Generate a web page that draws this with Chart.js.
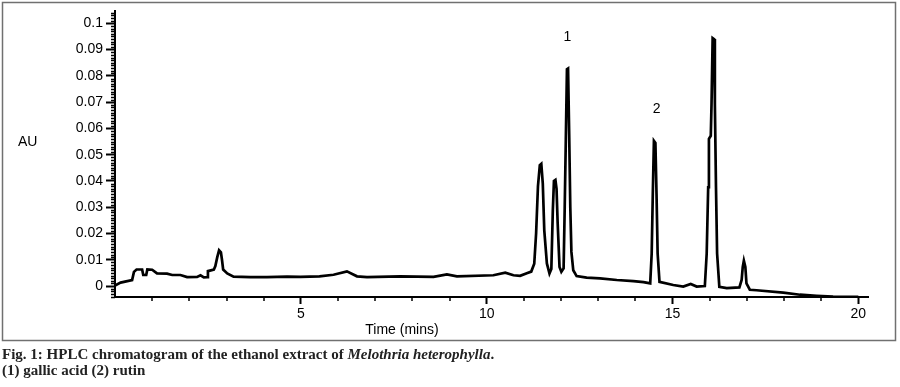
<!DOCTYPE html>
<html>
<head>
<meta charset="utf-8">
<script src="https://cdn.jsdelivr.net/npm/chart.js@4.4.1/dist/chart.umd.min.js"></script>
<style>
  html, body { margin: 0; padding: 0; background: #fff; }
  #wrap { position: relative; width: 900px; height: 387px; }
  #caption {
    position: absolute; left: 2px; top: 346px;
    font: bold 15px "Liberation Serif", serif; line-height: 16px; color: #222;
  }
</style>
</head>
<body>
<div id="wrap">
  <canvas id="HplcCanvas" width="900" height="387"></canvas>
  <div id="caption">Fig. 1: HPLC chromatogram of the ethanol extract of <i>Melothria heterophylla</i>.<br>(1) gallic acid (2) rutin</div>
</div>
<script>
// retention time (min) and absorbance (AU)
var retentionTimes = [
    0.00, 0.15, 0.46, 0.51, 0.58, 0.73, 0.76, 0.84, 0.87, 1.00,
    1.13, 1.40, 1.54, 1.76, 1.94, 2.21, 2.30, 2.39, 2.48, 2.50,
    2.66, 2.70, 2.75, 2.80, 2.85, 2.88, 2.91, 3.02, 3.19, 3.64,
    4.09, 4.63, 4.99, 5.50, 5.88, 6.24, 6.51, 6.78, 7.67, 8.57,
    8.93, 9.20, 10.18, 10.50, 10.72, 10.90, 11.08, 11.20, 11.28, 11.33,
    11.38, 11.43, 11.47, 11.51, 11.55, 11.62, 11.69, 11.74, 11.78, 11.81,
    11.85, 11.88, 11.91, 11.96, 12.01, 12.07, 12.10, 12.13, 12.16, 12.19,
    12.22, 12.25, 12.28, 12.33, 12.42, 12.69, 13.05, 13.50, 13.95, 14.22,
    14.40, 14.44, 14.47, 14.50, 14.54, 14.57, 14.60, 14.65, 15.02, 15.29,
    15.49, 15.65, 15.87, 15.92, 15.96, 15.98, 16.03, 16.05, 16.08, 16.12,
    16.14, 16.17, 16.20, 16.26, 16.46, 16.80, 16.86, 16.89, 16.92, 16.96,
    16.99, 17.08, 17.26, 17.98, 18.43, 18.88, 19.32, 20.00
];
var absorbance = [
    0.0002, 0.0013, 0.0023, 0.0054, 0.0063, 0.0063, 0.0042, 0.0042, 0.0063, 0.0062,
    0.0048, 0.0047, 0.0042, 0.0042, 0.0034, 0.0035, 0.0041, 0.0033, 0.0034, 0.0057,
    0.0063, 0.0076, 0.0109, 0.0136, 0.0128, 0.0098, 0.0063, 0.0048, 0.0036, 0.0034,
    0.0034, 0.0036, 0.0035, 0.0037, 0.0043, 0.0056, 0.0037, 0.0034, 0.0037, 0.0035,
    0.0044, 0.0037, 0.0041, 0.0051, 0.0041, 0.0039, 0.0049, 0.0055, 0.0085, 0.0200,
    0.0380, 0.0460, 0.0465, 0.0390, 0.0212, 0.0086, 0.0048, 0.0065, 0.0288, 0.0400,
    0.0404, 0.0370, 0.0240, 0.0073, 0.0054, 0.0067, 0.0300, 0.0560, 0.0825, 0.0828,
    0.0580, 0.0300, 0.0130, 0.0060, 0.0038, 0.0032, 0.0029, 0.0023, 0.0019, 0.0015,
    0.0010, 0.0124, 0.0351, 0.0553, 0.0545, 0.0351, 0.0124, 0.0016, 0.0004, -0.0002,
    0.0008, -0.0002, 0.0000, 0.0124, 0.0376, 0.0560, 0.0572, 0.0692, 0.0944, 0.0940,
    0.0692, 0.0376, 0.0124, -0.0003, -0.0008, -0.0005, 0.0023, 0.0073, 0.0097, 0.0073,
    0.0010, -0.0014, -0.0016, -0.0025, -0.0033, -0.0037, -0.0040, -0.0041
];

var xTicks = [5, 10, 15, 20];
var yTicks = [0, 0.01, 0.02, 0.03, 0.04, 0.05, 0.06, 0.07, 0.08, 0.09, 0.1];

// peak numbers written above the peaks
var peakNames = ["1", "2"];
var peakTimes = [12.17, 14.57];
var peakHeights = [0.0947, 0.0673];

var points = retentionTimes.map(function (t, i) {
    return { x: t, y: absorbance[i] };
});

var tickFont = { family: "'Liberation Sans', Arial, sans-serif", size: 14 };

// frame, minor ticks, axis titles and peak numbers
var decorations = {
    id: 'decorations',
    beforeDraw: function (chart) {
        var ctx = chart.ctx;
        ctx.save();
        ctx.strokeStyle = "#707070";
        ctx.lineWidth = 1.5;
        ctx.strokeRect(2.5, 2.5, 893, 338);
        ctx.restore();
    },
    afterDraw: function (chart) {
        var ctx = chart.ctx;
        var xs = chart.scales.x, ys = chart.scales.y;
        ctx.save();
        ctx.strokeStyle = "#000";
        ctx.lineWidth = 1.5;
        ctx.beginPath();
        for (var m = 1; m < 20; m++) {
            if (m % 5 === 0) continue;
            var px = Math.round(xs.getPixelForValue(m));
            ctx.moveTo(px, xs.top);
            ctx.lineTo(px, xs.top + 4);
        }
        for (var k = -4; k <= 104; k++) {
            if (k % 10 === 0) continue;
            var py = Math.round(ys.getPixelForValue(k / 1000)) + 0.5;
            ctx.moveTo(ys.right - 4, py);
            ctx.lineTo(ys.right, py);
        }
        ctx.stroke();

        ctx.fillStyle = "#000";
        ctx.font = "14px 'Liberation Sans', Arial, sans-serif";
        ctx.textBaseline = "middle";
        ctx.textAlign = "left";
        ctx.fillText("AU", 18, 142);
        ctx.textAlign = "center";
        ctx.fillText("Time (mins)", 402, 330);
        peakNames.forEach(function (name, i) {
            ctx.fillText(name, xs.getPixelForValue(peakTimes[i]), ys.getPixelForValue(peakHeights[i]));
        });
        ctx.restore();
    }
};

new Chart(document.getElementById("HplcCanvas"), {
    type: 'line',
    data: {
        datasets: [{
            label: "Ethanol extract",
            data: points,
            borderColor: "#000",
            borderWidth: 2.7,
            pointRadius: 0,
            tension: 0,
            fill: false
        }]
    },
    options: {
        responsive: false,
        animation: false,
        layout: { padding: { left: 0, top: 10, right: 32, bottom: 60 } },
        plugins: {
            legend: { display: false },
            tooltip: { enabled: false }
        },
        scales: {
            x: {
                type: 'linear',
                min: 0,
                max: 20.26,
                afterBuildTicks: function (scale) {
                    scale.ticks = xTicks.map(function (v) { return { value: v }; });
                },
                afterFit: function (scale) { scale.height = 30; },
                ticks: { font: tickFont, color: "#000", padding: 2, maxRotation: 0 },
                grid: { drawOnChartArea: false, tickLength: 7, tickColor: "#000", tickWidth: 2 },
                border: { color: "#000", width: 2 }
            },
            y: {
                type: 'linear',
                min: -0.00417,
                max: 0.10455,
                afterBuildTicks: function (scale) {
                    scale.ticks = yTicks.map(function (v) { return { value: v }; });
                },
                afterFit: function (scale) { scale.width = 115; },
                ticks: {
                    font: tickFont, color: "#000", padding: 3,
                    callback: function (v) { return String(Math.round(v * 100) / 100); }
                },
                grid: { drawOnChartArea: false, tickLength: 9, tickColor: "#000", tickWidth: 2 },
                border: { color: "#000", width: 2 }
            }
        }
    },
    plugins: [decorations]
});
</script>
</body>
</html>
